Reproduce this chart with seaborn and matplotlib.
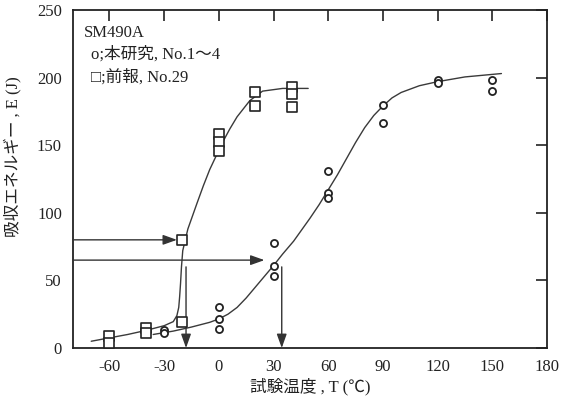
import matplotlib
matplotlib.use("Agg")
import matplotlib.pyplot as plt
import seaborn as sns
import pandas as pd

# --- data ---
sq_T = [-60, -60, -40, -40, -20, -20, 0, 0, 0, 20, 20, 40, 40, 40]
sq_E = [9, 4, 15, 11, 19.5, 80, 158, 152, 146, 189, 179, 193, 188, 178]

ci_T = [-30, -30, 0, 0, 0, 30, 30, 30, 60, 60, 60, 90, 90, 120, 120, 150, 150]
ci_E = [13, 11, 30, 21.5, 14, 78, 61, 53, 131, 114.5, 111, 180, 166.5, 198, 196, 198, 190]

sq_curve_T = [-70, -60, -50, -40, -30, -25, -23, -22, -21.5, -21, -20.5, -19.8,
              -17, -12, -8.5, -5, 2, 6, 10, 17, 24, 35, 49]
sq_curve_E = [5, 7.5, 10, 13, 16.5, 19.5, 24, 30, 38, 48, 60, 72,
              88, 107, 120, 132, 152, 162, 171, 183, 190, 192, 192]

ci_curve_T = [-36, -25, -15, -5, 0, 5, 10, 15, 20, 25, 30, 35, 41, 50, 55, 60, 65,
              70, 75, 80, 85, 90, 95, 100, 110, 120, 135, 155]
ci_curve_E = [10, 12.5, 15.5, 19, 21.5, 25, 30, 37, 45, 53, 61, 69.5, 79, 96, 106,
              117, 128, 140, 152, 163, 172, 179, 185, 189, 194, 197, 200.5, 203]

legend_title = "SM490A"
legend_ci = "o;本研究, No.1～4"
legend_sq = "□;前報, No.29"

x_ticks = [-60, -30, 0, 30, 60, 90, 120, 150, 180]
y_ticks = [0, 50, 100, 150, 200, 250]

sns.set_theme(style="white")
plt.rcParams['font.family'] = ['Liberation Serif', 'Noto Sans CJK JP']
plt.rcParams['axes.unicode_minus'] = False

fig = plt.figure(figsize=(5.62, 4.05), dpi=100)
ax = fig.add_axes([73/562, 1-348/405, 474/562, 338/405])

line_col = "#3a3a3a"
sns.lineplot(x=sq_curve_T, y=sq_curve_E, ax=ax, color=line_col, lw=1.0, sort=False, estimator=None)
sns.lineplot(x=ci_curve_T, y=ci_curve_E, ax=ax, color=line_col, lw=1.0, sort=False, estimator=None)

sns.scatterplot(x=sq_T, y=sq_E, ax=ax, marker="s", s=42, facecolor="white",
                edgecolor="#222222", linewidth=1.2, zorder=5)
sns.scatterplot(x=ci_T, y=ci_E, ax=ax, marker="o", s=26, facecolor="white",
                edgecolor="#222222", linewidth=1.3, zorder=5)

arrow_kw = dict(arrowstyle="-|>,head_length=0.7,head_width=0.25", color="#333333", lw=1.0,
                shrinkA=0, shrinkB=0)
# horizontal arrows
ax.annotate("", xy=(-23, 80), xytext=(-80, 80), arrowprops=arrow_kw)
ax.annotate("", xy=(25, 65), xytext=(-80, 65), arrowprops=arrow_kw)
# vertical arrows
ax.annotate("", xy=(-18, 0), xytext=(-18, 60), arrowprops=arrow_kw)
ax.annotate("", xy=(34.5, 0), xytext=(34.5, 60), arrowprops=arrow_kw)

ax.set_xlim(-80, 180)
ax.set_ylim(0, 250)
ax.set_xticks(x_ticks)
ax.set_yticks(y_ticks)
ax.set_xticklabels([str(t) for t in x_ticks])
ax.set_yticklabels([str(t) for t in y_ticks])
ax.tick_params(direction="in", length=8, width=1.2, labelsize=12, colors="#222222",
               top=True, right=True, pad=8)
for sp in ax.spines.values():
    sp.set_color("#222222")
    sp.set_linewidth(1.3)

ax.set_xlabel("試験温度 , T (℃)", fontsize=12, color="#222222", labelpad=2)
ax.set_ylabel("吸収エネルギー , E (J)", fontsize=12, color="#222222")
ax.yaxis.set_label_coords(-0.108, 0.565)

ax.text(-74, 233, legend_title, fontsize=12, va="center", ha="left", color="#222222")
ax.text(-70, 217, legend_ci, fontsize=12, va="center", ha="left", color="#222222")
ax.text(-70, 200, legend_sq, fontsize=12, va="center", ha="left", color="#222222")

fig.savefig("out.png", dpi=100)
